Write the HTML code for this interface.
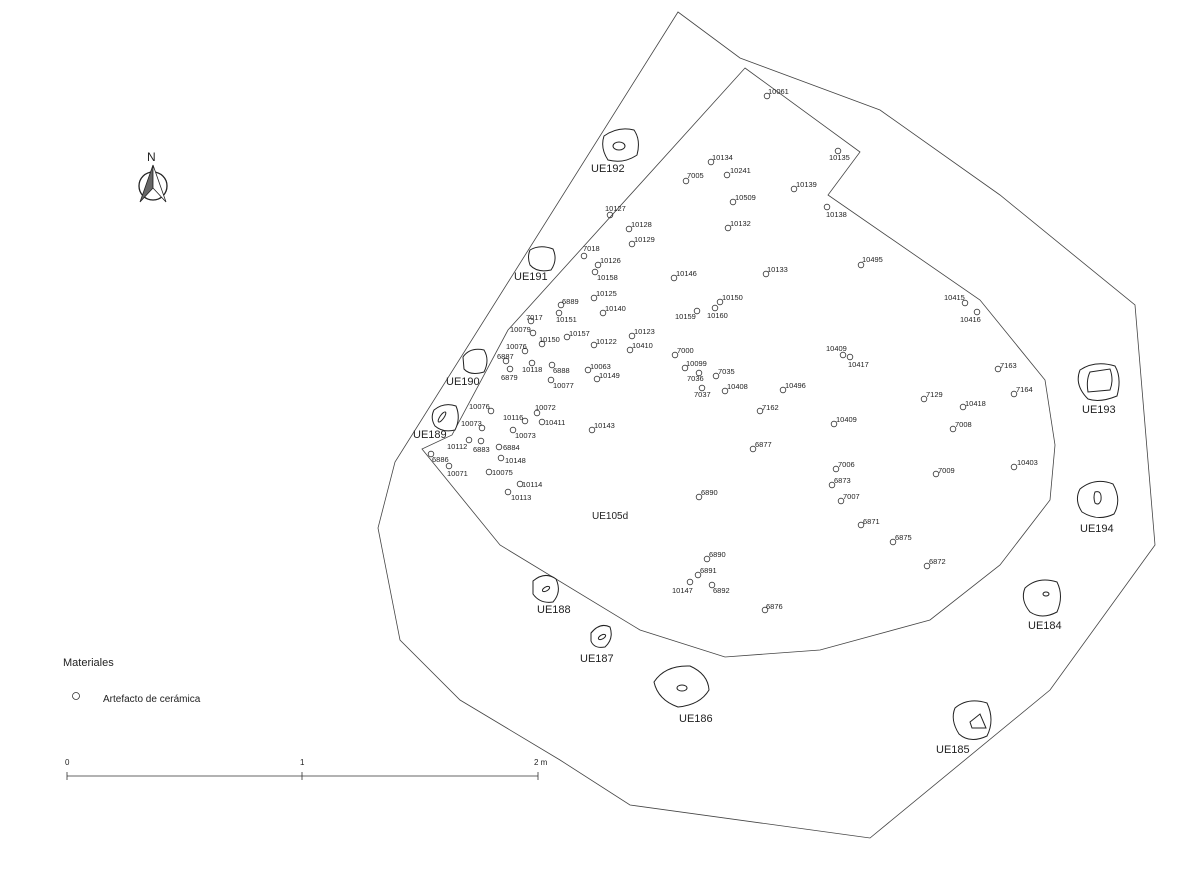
<!DOCTYPE html>
<html><head><meta charset="utf-8"><style>
body{margin:0;background:#fff}
svg{display:block}
.p{fill:none;stroke:#333;stroke-width:0.8}
.l{font-family:"Liberation Sans",sans-serif;font-size:7.5px;fill:#222}
.u{font-family:"Liberation Sans",sans-serif;font-size:11px;fill:#222}
.pit{fill:#fff;stroke:#222;stroke-width:1}
</style></head><body>
<svg width="1200" height="873" viewBox="0 0 1200 873" xmlns="http://www.w3.org/2000/svg">
<rect width="1200" height="873" fill="#fff"/>
<polygon fill="none" stroke="#444" stroke-width="0.8" points="678,12 740,58 880,110 1000,195 1135,305 1155,545 1050,690 870,838 630,805 560,760 460,700 400,640 378,528 395,462"/>
<polygon fill="none" stroke="#444" stroke-width="0.8" points="745,68 860,152 828,195 980,300 1045,380 1055,445 1050,500 1000,565 930,620 820,650 725,657 640,630 500,545 422,449 452,435 508,330"/>
<!-- pits -->
<path class="pit" d="M604,136 Q618,126 634,130 Q641,140 637,155 Q624,164 608,160 Q600,148 604,136Z"/><ellipse cx="619" cy="146" rx="6" ry="4" fill="none" stroke="#222"/>
<path class="pit" d="M530,250 Q540,244 553,249 Q558,260 551,270 Q537,273 530,265 Q527,257 530,250Z"/>
<path class="pit" d="M463,357 Q470,347 484,350 Q490,360 484,372 Q470,376 464,369Z"/>
<path class="pit" d="M434,410 Q444,402 456,406 Q461,418 455,430 Q443,433 435,426 Q430,418 434,410Z"/><ellipse cx="442" cy="417" rx="2" ry="6" transform="rotate(35 442 417)" fill="none" stroke="#222"/>
<path class="pit" d="M1080,370 Q1095,360 1115,366 Q1122,378 1117,396 Q1100,403 1088,399 Q1074,385 1080,370Z"/><path d="M1090,372 L1110,369 Q1114,380 1110,390 L1088,392 Q1086,380 1090,372Z" fill="none" stroke="#222"/>
<path class="pit" d="M1080,489 Q1095,477 1113,484 Q1122,500 1114,514 Q1098,522 1082,512 Q1074,500 1080,489Z"/><path d="M1095,492 Q1102,490 1101,500 Q1099,506 1095,503 Q1093,497 1095,492Z" fill="none" stroke="#222"/>
<path class="pit" d="M533,581 Q545,571 556,579 Q562,592 553,602 Q540,604 533,594Z"/><ellipse cx="546" cy="589" rx="4" ry="2" transform="rotate(-30 546 589)" fill="none" stroke="#222"/>
<path class="pit" d="M591,633 Q600,622 610,627 Q614,639 605,647 Q594,649 591,641Z"/><ellipse cx="602" cy="637" rx="4" ry="2" transform="rotate(-30 602 637)" fill="none" stroke="#222"/>
<path class="pit" d="M654,682 Q665,665 690,666 Q708,674 709,690 Q700,705 678,707 Q658,700 654,682Z"/><ellipse cx="682" cy="688" rx="5" ry="3" fill="none" stroke="#222"/>
<path class="pit" d="M1025,588 Q1038,576 1057,582 Q1064,596 1057,612 Q1042,620 1030,612 Q1020,600 1025,588Z"/><ellipse cx="1046" cy="594" rx="3" ry="2" fill="none" stroke="#222"/>
<path class="pit" d="M955,708 Q968,697 987,703 Q995,720 987,736 Q970,744 959,734 Q950,720 955,708Z"/><path d="M970,722 L980,714 L986,728 L972,728Z" fill="none" stroke="#222"/>
<g class="u">
<text x="591" y="172">UE192</text><text x="514" y="280">UE191</text><text x="446" y="385">UE190</text><text x="413" y="438">UE189</text>
<text x="1082" y="413">UE193</text><text x="1080" y="532">UE194</text><text x="537" y="613">UE188</text><text x="580" y="662">UE187</text>
<text x="679" y="722">UE186</text><text x="1028" y="629">UE184</text><text x="936" y="753">UE185</text>
<text x="592" y="519" font-size="10">UE105d</text>
</g>
<!-- points -->
<g class="p">
<circle cx="767" cy="96" r="2.8"/><circle cx="838" cy="151" r="2.8"/><circle cx="711" cy="162" r="2.8"/><circle cx="727" cy="175" r="2.8"/><circle cx="686" cy="181" r="2.8"/><circle cx="794" cy="189" r="2.8"/><circle cx="733" cy="202" r="2.8"/><circle cx="827" cy="207" r="2.8"/><circle cx="610" cy="215" r="2.8"/><circle cx="629" cy="229" r="2.8"/><circle cx="728" cy="228" r="2.8"/><circle cx="632" cy="244" r="2.8"/><circle cx="584" cy="256" r="2.8"/><circle cx="598" cy="265" r="2.8"/><circle cx="595" cy="272" r="2.8"/><circle cx="861" cy="265" r="2.8"/><circle cx="674" cy="278" r="2.8"/><circle cx="766" cy="274" r="2.8"/><circle cx="594" cy="298" r="2.8"/><circle cx="965" cy="303" r="2.8"/><circle cx="977" cy="312" r="2.8"/><circle cx="720" cy="302" r="2.8"/><circle cx="697" cy="311" r="2.8"/><circle cx="715" cy="308" r="2.8"/><circle cx="561" cy="305" r="2.8"/><circle cx="559" cy="313" r="2.8"/><circle cx="603" cy="313" r="2.8"/><circle cx="531" cy="321" r="2.8"/><circle cx="533" cy="333" r="2.8"/><circle cx="567" cy="337" r="2.8"/><circle cx="542" cy="344" r="2.8"/><circle cx="594" cy="345" r="2.8"/><circle cx="632" cy="336" r="2.8"/><circle cx="630" cy="350" r="2.8"/><circle cx="525" cy="351" r="2.8"/><circle cx="506" cy="361" r="2.8"/><circle cx="510" cy="369" r="2.8"/><circle cx="532" cy="363" r="2.8"/><circle cx="552" cy="365" r="2.8"/><circle cx="551" cy="380" r="2.8"/><circle cx="588" cy="370" r="2.8"/><circle cx="597" cy="379" r="2.8"/><circle cx="675" cy="355" r="2.8"/><circle cx="685" cy="368" r="2.8"/><circle cx="716" cy="376" r="2.8"/><circle cx="699" cy="373" r="2.8"/><circle cx="702" cy="388" r="2.8"/><circle cx="725" cy="391" r="2.8"/><circle cx="783" cy="390" r="2.8"/><circle cx="843" cy="355" r="2.8"/><circle cx="850" cy="357" r="2.8"/><circle cx="998" cy="369" r="2.8"/><circle cx="1014" cy="394" r="2.8"/><circle cx="924" cy="399" r="2.8"/><circle cx="963" cy="407" r="2.8"/><circle cx="760" cy="411" r="2.8"/><circle cx="834" cy="424" r="2.8"/><circle cx="953" cy="429" r="2.8"/><circle cx="491" cy="411" r="2.8"/><circle cx="537" cy="413" r="2.8"/><circle cx="525" cy="421" r="2.8"/><circle cx="542" cy="422" r="2.8"/><circle cx="482" cy="428" r="2.8"/><circle cx="513" cy="430" r="2.8"/><circle cx="592" cy="430" r="2.8"/><circle cx="753" cy="449" r="2.8"/><circle cx="469" cy="440" r="2.8"/><circle cx="481" cy="441" r="2.8"/><circle cx="499" cy="447" r="2.8"/><circle cx="501" cy="458" r="2.8"/><circle cx="431" cy="454" r="2.8"/><circle cx="449" cy="466" r="2.8"/><circle cx="489" cy="472" r="2.8"/><circle cx="1014" cy="467" r="2.8"/><circle cx="836" cy="469" r="2.8"/><circle cx="936" cy="474" r="2.8"/><circle cx="832" cy="485" r="2.8"/><circle cx="520" cy="484" r="2.8"/><circle cx="508" cy="492" r="2.8"/><circle cx="699" cy="497" r="2.8"/><circle cx="841" cy="501" r="2.8"/><circle cx="861" cy="525" r="2.8"/><circle cx="893" cy="542" r="2.8"/><circle cx="707" cy="559" r="2.8"/><circle cx="698" cy="575" r="2.8"/><circle cx="927" cy="566" r="2.8"/><circle cx="690" cy="582" r="2.8"/><circle cx="712" cy="585" r="2.8"/><circle cx="765" cy="610" r="2.8"/>
</g>
<g class="l">
<text x="768" y="94">10061</text><text x="829" y="160">10135</text><text x="712" y="160">10134</text><text x="730" y="173">10241</text><text x="687" y="178">7005</text><text x="796" y="187">10139</text><text x="735" y="200">10509</text><text x="826" y="217">10138</text><text x="605" y="211">10127</text><text x="631" y="227">10128</text><text x="730" y="226">10132</text><text x="634" y="242">10129</text><text x="583" y="251">7018</text><text x="600" y="263">10126</text><text x="597" y="280">10158</text><text x="862" y="262">10495</text><text x="676" y="276">10146</text><text x="767" y="272">10133</text><text x="596" y="296">10125</text><text x="944" y="300">10415</text><text x="960" y="322">10416</text><text x="722" y="300">10150</text><text x="675" y="319">10159</text><text x="707" y="318">10160</text><text x="562" y="304">6889</text><text x="556" y="322">10151</text><text x="605" y="311">10140</text><text x="526" y="320">7017</text><text x="510" y="332">10079</text><text x="569" y="336">10157</text><text x="539" y="342">10150</text><text x="596" y="344">10122</text><text x="634" y="334">10123</text><text x="632" y="348">10410</text><text x="506" y="349">10076</text><text x="497" y="359">6887</text><text x="501" y="380">6879</text><text x="522" y="372">10118</text><text x="553" y="373">6888</text><text x="553" y="388">10077</text><text x="590" y="369">10063</text><text x="599" y="378">10149</text><text x="677" y="353">7000</text><text x="686" y="366">10099</text><text x="718" y="374">7035</text><text x="687" y="381">7036</text><text x="694" y="397">7037</text><text x="727" y="389">10408</text><text x="785" y="388">10496</text><text x="826" y="351">10409</text><text x="848" y="367">10417</text><text x="1000" y="368">7163</text><text x="1016" y="392">7164</text><text x="926" y="397">7129</text><text x="965" y="406">10418</text><text x="762" y="410">7162</text><text x="836" y="422">10409</text><text x="955" y="427">7008</text><text x="469" y="409">10076</text><text x="535" y="410">10072</text><text x="503" y="420">10116</text><text x="545" y="425">10411</text><text x="461" y="426">10073</text><text x="515" y="438">10073</text><text x="594" y="428">10143</text><text x="755" y="447">6877</text><text x="447" y="449">10112</text><text x="473" y="452">6883</text><text x="503" y="450">6884</text><text x="505" y="463">10148</text><text x="432" y="462">6886</text><text x="447" y="476">10071</text><text x="492" y="475">10075</text><text x="1017" y="465">10403</text><text x="838" y="467">7006</text><text x="938" y="473">7009</text><text x="834" y="483">6873</text><text x="522" y="487">10114</text><text x="511" y="500">10113</text><text x="701" y="495">6890</text><text x="843" y="499">7007</text><text x="863" y="524">6871</text><text x="895" y="540">6875</text><text x="709" y="557">6890</text><text x="700" y="573">6891</text><text x="929" y="564">6872</text><text x="672" y="593">10147</text><text x="713" y="593">6892</text><text x="766" y="609">6876</text>
</g>
<!-- north arrow -->
<text x="147" y="161" font-family="Liberation Sans,sans-serif" font-size="12" fill="#222">N</text>
<circle cx="153" cy="186" r="14" fill="none" stroke="#222" stroke-width="1.3"/>
<polygon points="153,165 140,202 153,188" fill="#666" stroke="#222" stroke-width="0.8"/>
<polygon points="153,165 166,202 153,188" fill="#fff" stroke="#222" stroke-width="0.8"/>
<!-- legend -->
<text x="63" y="666" font-family="Liberation Sans,sans-serif" font-size="11" fill="#222">Materiales</text>
<circle cx="76" cy="696" r="3.5" fill="none" stroke="#333" stroke-width="0.8"/>
<text x="103" y="702" font-family="Liberation Sans,sans-serif" font-size="10" fill="#222">Artefacto de cerámica</text>
<!-- scale -->
<g font-family="Liberation Sans,sans-serif" font-size="8" fill="#222"><text x="65" y="765">0</text><text x="300" y="765">1</text><text x="534" y="765">2 m</text></g>
<path d="M67,776 H538 M67,772 V780 M302,772 V780 M538,772 V780" stroke="#333" stroke-width="0.8" fill="none"/>
</svg>
</body></html>
